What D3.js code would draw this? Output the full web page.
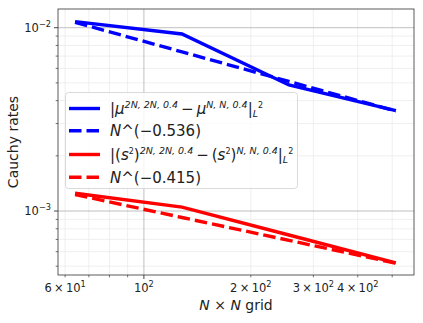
<!DOCTYPE html>
<html>
<head>
<meta charset="utf-8">
<script src="https://cdn.jsdelivr.net/npm/d3@7"></script>
<style>
  body { margin: 0; background: #fff; }
  text { font-family: "DejaVu Sans", sans-serif; }
</style>
</head>
<body>
<div id="chart"></div>
<script>
// grid sizes N
let gridN = [64, 128, 256, 512];
// |mu^{2N} - mu^{N}| in L2
let muRates = [0.0108, 0.00924, 0.00487, 0.00353];
let muFit = [0.0107, 0.00738, 0.00509, 0.00351];
// |(s^2)^{2N} - (s^2)^{N}| in L2
let s2Rates = [0.00125, 0.00105, 0.00074, 0.000522];
let s2Fit = [0.00123, 0.000922, 0.000692, 0.000519];

let xMajor = [100];
let xMinor = [60, 70, 80, 90, 200, 300, 400, 500];
let xMinorLabels = {60: ['6', '1'], 200: ['2', '2'], 300: ['3', '2'], 400: ['4', '2']};
let yMajor = [1e-3, 1e-2];
let yMinor = [5e-4, 6e-4, 7e-4, 8e-4, 9e-4, 2e-3, 3e-3, 4e-3, 5e-3, 6e-3, 7e-3, 8e-3, 9e-3];

let width = 423, height = 323;
let m = {left: 58, right: 9, top: 9, bottom: 48};

let svg = d3.select('#chart').append('svg')
  .attr('width', width)
  .attr('height', height);

let x = d3.scaleLog().domain([57.3, 576]).range([m.left, width - m.right]);
let y = d3.scaleLog().domain([10 ** -3.349, 10 ** -1.898]).range([height - m.bottom, m.top]);

let plot = svg.append('g');

// grid lines
plot.selectAll('.xminor').data(xMinor).enter().append('line')
  .attr('x1', d => x(d)).attr('x2', d => x(d))
  .attr('y1', m.top).attr('y2', height - m.bottom)
  .attr('stroke', '#ebebeb').attr('stroke-width', 0.8);
plot.selectAll('.yminor').data(yMinor).enter().append('line')
  .attr('y1', d => y(d)).attr('y2', d => y(d))
  .attr('x1', m.left).attr('x2', width - m.right)
  .attr('stroke', '#ebebeb').attr('stroke-width', 0.8);
plot.selectAll('.xmajor').data(xMajor).enter().append('line')
  .attr('x1', d => x(d)).attr('x2', d => x(d))
  .attr('y1', m.top).attr('y2', height - m.bottom)
  .attr('stroke', '#b0b0b0').attr('stroke-width', 0.8);
plot.selectAll('.ymajor').data(yMajor).enter().append('line')
  .attr('y1', d => y(d)).attr('y2', d => y(d))
  .attr('x1', m.left).attr('x2', width - m.right)
  .attr('stroke', '#b0b0b0').attr('stroke-width', 0.8);

// series
let line = d3.line().x(d => x(d[0])).y(d => y(d[1]));
let series = [
  {vals: muRates, color: '#0000ff', dash: null},
  {vals: muFit, color: '#0000ff', dash: '12.5,5'},
  {vals: s2Rates, color: '#ff0000', dash: null},
  {vals: s2Fit, color: '#ff0000', dash: '12.5,5'}
];
series.forEach(s => {
  plot.append('path')
    .datum(d3.zip(gridN, s.vals))
    .attr('d', line)
    .attr('fill', 'none')
    .attr('stroke', s.color)
    .attr('stroke-width', 3.4)
    .attr('stroke-dasharray', s.dash);
});

// frame
svg.append('rect')
  .attr('x', m.left).attr('y', m.top)
  .attr('width', width - m.left - m.right)
  .attr('height', height - m.top - m.bottom)
  .attr('fill', 'none').attr('stroke', '#333').attr('stroke-width', 0.8);

// x ticks
let xb = height - m.bottom;
let xt = svg.append('g');
xMajor.concat(xMinor).forEach(d => {
  let major = xMajor.includes(d);
  xt.append('line')
    .attr('x1', x(d)).attr('x2', x(d))
    .attr('y1', xb).attr('y2', xb + (major ? 4 : 2.3))
    .attr('stroke', '#333').attr('stroke-width', major ? 0.9 : 0.7);
});
function powLabel(g, px, py, mant, exp, anchor) {
  let t = g.append('text').attr('x', px).attr('y', py)
    .attr('text-anchor', anchor).attr('font-size', 11.5).attr('fill', '#222');
  if (mant) t.append('tspan').text(mant + '\u2009×\u200910');
  else t.append('tspan').text('10');
  t.append('tspan').attr('dy', -5).attr('font-size', 8.2).text(exp);
  return t;
}
powLabel(xt, x(100), xb + 17, null, '2', 'middle');
Object.keys(xMinorLabels).forEach(k => {
  let l = xMinorLabels[k];
  powLabel(xt, x(+k), xb + 17, l[0], l[1], 'middle');
});

// y ticks
let yt = svg.append('g');
yMajor.concat(yMinor).forEach(d => {
  let major = yMajor.includes(d);
  yt.append('line')
    .attr('x1', m.left - (major ? 4 : 2.3)).attr('x2', m.left)
    .attr('y1', y(d)).attr('y2', y(d))
    .attr('stroke', '#333').attr('stroke-width', major ? 0.9 : 0.7);
});
powLabel(yt, m.left - 7, y(1e-2) + 4, null, '\u22122', 'end');
powLabel(yt, m.left - 7, y(1e-3) + 4, null, '\u22123', 'end');

// axis labels
svg.append('text')
  .attr('x', (m.left + width - m.right) / 2).attr('y', 310)
  .attr('text-anchor', 'middle').attr('font-size', 14).attr('fill', '#222')
  .html('<tspan font-style="italic">N</tspan> × <tspan font-style="italic">N</tspan> grid');
svg.append('text')
  .attr('transform', 'translate(18,' + ((m.top + height - m.bottom) / 2) + ') rotate(-90)')
  .attr('text-anchor', 'middle').attr('font-size', 14).attr('fill', '#222')
  .text('Cauchy rates');

// legend
let lg = svg.append('g');
lg.append('rect')
  .attr('x', 65.5).attr('y', 92.5).attr('width', 232).attr('height', 96)
  .attr('rx', 3).attr('fill', 'rgba(255,255,255,0.8)')
  .attr('stroke', '#d0d0d0').attr('stroke-width', 0.8);
let rows = [108.5, 130.7, 154.5, 177.3];
rows.forEach((ry, i) => {
  lg.append('line')
    .attr('x1', 69).attr('x2', 100).attr('y1', ry).attr('y2', ry)
    .attr('stroke', series[i].color).attr('stroke-width', 3.4)
    .attr('stroke-dasharray', series[i].dash);
});

// one text per entry, pieces flow with dy shifts: [text, kind]
let shift = {sup: -6, sq: -6, sub: 3, base: 0};
function mathLabel(ry, pieces) {
  let t = lg.append('text').attr('x', 110).attr('y', ry + 5.5)
    .attr('font-size', 15).attr('fill', '#222');
  let cur = 0;
  pieces.forEach(p => {
    let kind = p[1] || 'base';
    let s = t.append('tspan').attr('dy', shift[kind] - cur).text(p[0]);
    cur = shift[kind];
    if (kind === 'sup') s.attr('font-size', 9.5).attr('font-style', 'italic');
    if (kind === 'sq') s.attr('font-size', 8);
    if (kind === 'sub') s.attr('font-size', 9.5).attr('font-style', 'italic');
    if (p[2]) s.attr('font-style', 'italic');
  });
}
mathLabel(rows[0], [
  ['|'], ['\u03bc', 'base', 1], ['2N, 2N, 0.4', 'sup'],
  ['\u2009\u2212\u2009'], ['\u03bc', 'base', 1], ['N, N, 0.4', 'sup'],
  ['|'], ['L', 'sub'], ['2', 'sq']
]);
mathLabel(rows[2], [
  ['|('], ['s', 'base', 1], ['2', 'sq'], [')'], ['2N, 2N, 0.4', 'sup'],
  ['\u2009\u2212\u2009('], ['s', 'base', 1], ['2', 'sq'], [')'], ['N, N, 0.4', 'sup'],
  ['|'], ['L', 'sub'], ['2', 'sq']
]);
mathLabel(rows[1], [['N', 'base', 1], ['^(\u22120.536)']]);
mathLabel(rows[3], [['N', 'base', 1], ['^(\u22120.415)']]);
</script>
</body>
</html>
